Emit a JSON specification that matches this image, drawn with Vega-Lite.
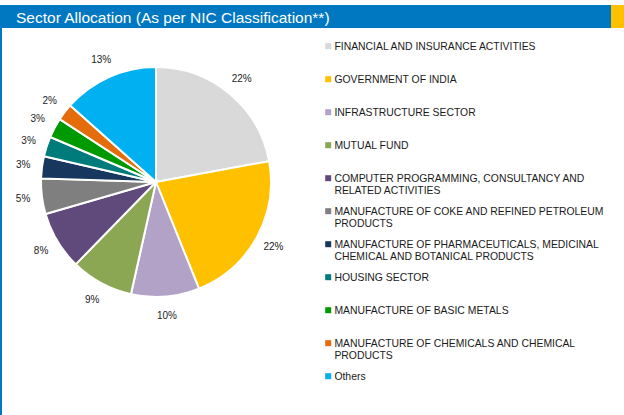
{
  "$schema": "https://vega.github.io/schema/vega-lite/v6.json",
  "padding": {"top": 5, "left": 0, "right": 0, "bottom": 0},
  "spacing": 0,
  "config": {"view": {"stroke": null}, "concat": {"spacing": 0}},
  "datasets": {
    "one": [{"k": 1, "title": "Sector Allocation (As per NIC Classification**)"}],
    "sectors": [
      {"sector": "FINANCIAL AND INSURANCE ACTIVITIES", "share": 0.221, "rank": 1},
      {"sector": "GOVERNMENT OF INDIA", "share": 0.218, "rank": 2},
      {"sector": "INFRASTRUCTURE SECTOR", "share": 0.096, "rank": 3},
      {"sector": "MUTUAL FUND", "share": 0.088, "rank": 4},
      {"sector": "COMPUTER PROGRAMMING, CONSULTANCY AND RELATED ACTIVITIES", "share": 0.082, "rank": 5},
      {"sector": "MANUFACTURE OF COKE AND REFINED PETROLEUM PRODUCTS", "share": 0.05, "rank": 6},
      {"sector": "MANUFACTURE OF PHARMACEUTICALS, MEDICINAL CHEMICAL AND BOTANICAL PRODUCTS", "share": 0.031, "rank": 7},
      {"sector": "HOUSING SECTOR", "share": 0.028, "rank": 8},
      {"sector": "MANUFACTURE OF BASIC METALS", "share": 0.028, "rank": 9},
      {"sector": "MANUFACTURE OF CHEMICALS AND CHEMICAL PRODUCTS", "share": 0.024, "rank": 10},
      {"sector": "Others", "share": 0.134, "rank": 11}
    ]
  },
  "vconcat": [
    {
      "hconcat": [
        {
          "width": 611, "height": 23,
          "data": {"name": "one"},
          "layer": [
            {"mark": {"type": "rect", "color": "#0078C1"}},
            {
              "mark": {"type": "text", "align": "left", "baseline": "middle", "dx": 16, "dy": 1,
                       "font": "Liberation Sans", "fontSize": 15.5, "color": "#FFFFFF"},
              "encoding": {
                "text": {"field": "title", "type": "nominal"},
                "x": {"datum": 0, "type": "quantitative", "scale": {"domain": [0, 1]}, "axis": null}
              }
            }
          ]
        },
        {
          "width": 13, "height": 23,
          "data": {"name": "one"},
          "mark": {"type": "rect", "color": "#FFC000"}
        }
      ]
    },
    {
      "hconcat": [
        {
          "width": 2, "height": 387,
          "data": {"name": "one"},
          "mark": {"type": "rect", "color": "#0078C1"}
        },
        {
          "width": 308, "height": 308,
          "data": {"name": "sectors"},
          "encoding": {
            "theta": {"field": "share", "type": "quantitative", "stack": true},
            "order": {"field": "rank", "type": "quantitative"},
            "color": {
              "field": "sector", "type": "nominal",
              "scale": {
                "domain": [
                  "FINANCIAL AND INSURANCE ACTIVITIES", "GOVERNMENT OF INDIA", "INFRASTRUCTURE SECTOR", "MUTUAL FUND",
                  "COMPUTER PROGRAMMING, CONSULTANCY AND RELATED ACTIVITIES",
                  "MANUFACTURE OF COKE AND REFINED PETROLEUM PRODUCTS",
                  "MANUFACTURE OF PHARMACEUTICALS, MEDICINAL CHEMICAL AND BOTANICAL PRODUCTS",
                  "HOUSING SECTOR", "MANUFACTURE OF BASIC METALS",
                  "MANUFACTURE OF CHEMICALS AND CHEMICAL PRODUCTS", "Others"
                ],
                "range": ["#D9D9D9", "#FFC000", "#B3A2C7", "#8BA753", "#604A7B", "#7F7F7F", "#17375E", "#007B7B", "#009A00", "#E46C0A", "#00B0F0"]
              },
              "legend": {
                "orient": "none", "legendX": 323, "legendY": 36,
                "title": null, "padding": 0,
                "symbolType": "square", "symbolSize": 36, "symbolStrokeWidth": 0,
                "labelFont": "Liberation Sans", "labelFontSize": 10.4, "labelColor": "#1A1A1A",
                "labelOffset": 1, "labelLimit": 400, "rowPadding": 9,
                "labelExpr": "length(split(replace(datum.label, regexp(' (RELATED ACTIVITIES|CHEMICAL AND BOTANICAL PRODUCTS|PRODUCTS)$'), '|$1'), '|')) > 1 ? split(replace(datum.label, regexp(' (RELATED ACTIVITIES|CHEMICAL AND BOTANICAL PRODUCTS|PRODUCTS)$'), '|$1'), '|') : [datum.label, ' ']",
                "labelBaseline": "alphabetic",
                "encode": {"labels": {"update": {"dy": {"value": 3.7}}}}
              }
            }
          },
          "layer": [
            {"mark": {"type": "arc", "outerRadius": 115, "stroke": "#FFFFFF", "strokeWidth": 2}},
            {
              "mark": {"type": "text", "radius": 134, "font": "Liberation Sans", "fontSize": 10, "fill": "#222222"},
              "encoding": {"text": {"field": "share", "type": "quantitative", "format": ".0%"}}
            }
          ]
        }
      ]
    }
  ]
}
